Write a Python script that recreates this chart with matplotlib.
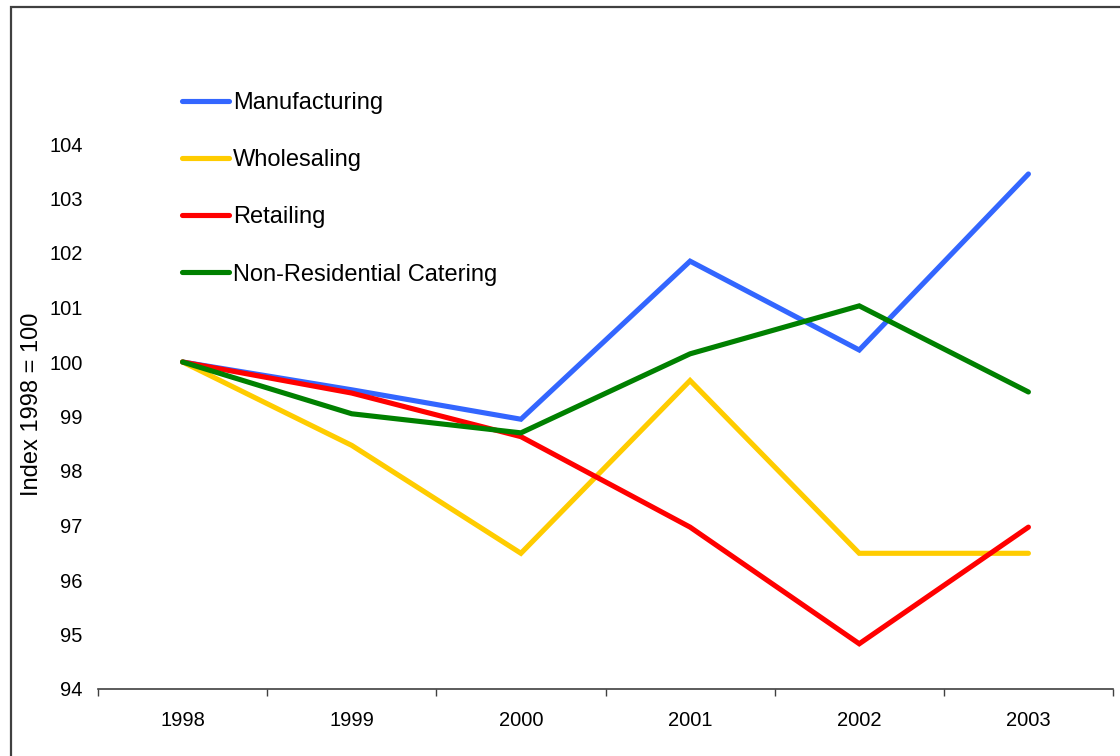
import matplotlib
matplotlib.use("Agg")
import matplotlib.pyplot as plt
from matplotlib.patches import Rectangle
from matplotlib.lines import Line2D

years = ["1998", "1999", "2000", "2001", "2002", "2003"]
manufacturing = [100.0, 99.49, 98.95, 101.85, 100.22, 103.45]
wholesaling = [100.0, 98.47, 96.49, 99.66, 96.49, 96.49]
retailing = [100.0, 99.43, 98.63, 96.97, 94.83, 96.97]
catering = [100.0, 99.05, 98.70, 100.15, 101.03, 99.45]

series_names = ["Manufacturing", "Wholesaling", "Retailing", "Non-Residential Catering"]
series_values = [manufacturing, wholesaling, retailing, catering]
series_colors = ["#3366FF", "#FFCC00", "#FF0000", "#008000"]
y_ticks = [94, 95, 96, 97, 98, 99, 100, 101, 102, 103, 104]

plt.rcParams["font.family"] = ["Liberation Sans", "DejaVu Sans"]

W, H = 1120, 756
fig = plt.figure(figsize=(W / 100, H / 100), dpi=100)
fig.patch.set_facecolor("white")

# outer chart border (open to the right and bottom)
fig.patches.append(Rectangle((11 / W, -0.1), 1.2, 1 - 7 / H + 0.1,
                             transform=fig.transFigure, fill=False,
                             edgecolor="#404040", linewidth=1.6))

left, right, bottom, top = 98, 1113, 689, 144
ax = fig.add_axes([left / W, 1 - bottom / H, (right - left) / W, (bottom - top) / H])

x = list(range(len(years)))
handles = []
for name, vals, col in zip(series_names, series_values, series_colors):
    ax.plot(x, vals, color=col, linewidth=3.7, solid_capstyle="round",
            solid_joinstyle="miter", clip_on=False, label=name)
    handles.append(Line2D([], [], color=col, linewidth=3.7, solid_capstyle="round"))

ax.set_xlim(-0.5, len(years) - 0.5)
ax.set_ylim(94, 104)
ax.set_yticks(y_ticks)
ax.set_yticklabels([str(v) for v in y_ticks], fontsize=14.5)
ax.tick_params(axis="y", length=0, pad=11)

# category labels centred, tick marks between categories
ax.set_xticks(x)
ax.set_xticklabels(years, fontsize=14.5)
ax.tick_params(axis="x", which="major", length=0, pad=16)
ax.set_xticks([i - 0.5 for i in range(len(years) + 1)], minor=True)
ax.tick_params(axis="x", which="minor", length=5, width=1, color="#404040", direction="out")

for s in ["left", "top", "right"]:
    ax.spines[s].set_visible(False)
ax.spines["bottom"].set_color("#404040")
ax.spines["bottom"].set_linewidth(1.2)

ax.set_ylabel("Index 1998 = 100", fontsize=17)
ax.yaxis.set_label_coords(-0.054, 0.523)

fig.legend(handles, series_names, loc="upper left",
           bbox_to_anchor=(182 / W, 1 - 92 / H), frameon=False,
           fontsize=17, handlelength=2.0, handletextpad=0.17,
           labelspacing=1.49, borderpad=0, borderaxespad=0)

fig.savefig("out.png", dpi=100, facecolor="white")
